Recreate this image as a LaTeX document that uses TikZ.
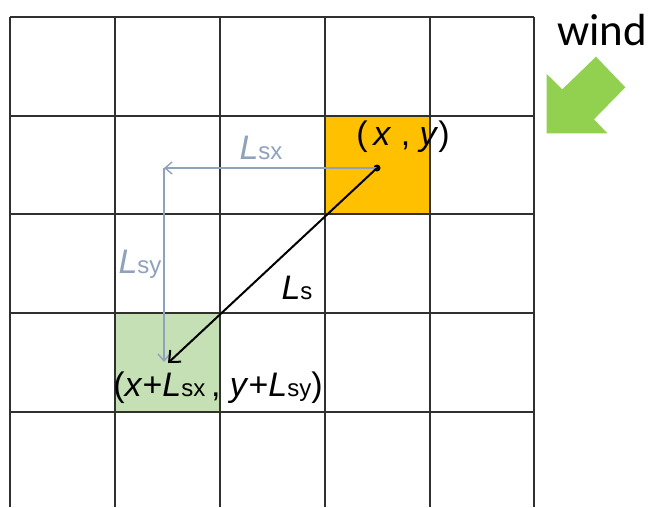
\documentclass[tikz,border=0pt]{standalone}
\usepackage{fontspec}
\setmainfont{Liberation Sans}
\newfontfamily\windfont{Carlito}
\usetikzlibrary{arrows.meta}
\definecolor{gridc}{HTML}{303030}
\definecolor{orng}{HTML}{FFC000}
\definecolor{lgreen}{HTML}{C5E0B4}
\definecolor{wgreen}{HTML}{92D050}
\definecolor{bluegray}{HTML}{8FA2BC}
\newcommand\bigf{\fontsize{34}{38}\selectfont}
\newcommand\subf[1]{{\fontsize{24}{27}\selectfont #1}}
\tikzset{
  gridline/.style={gridc, line width=1.2pt},
  bluearrow/.style={bluegray, line width=1.4pt, -{Straight Barb[length=7pt,width=12pt,line width=1.4pt]}},
  blackarrow/.style={black, line width=2pt, -{Straight Barb[length=9pt,width=16pt,line width=2pt]}},
  lbl/.style={inner sep=0pt, font=\bigf},
  bluelbl/.style={inner sep=0pt, font=\bigf, text=bluegray},
}
\begin{document}
\begin{tikzpicture}[x=1pt,y=-1pt]
\useasboundingbox[fill=white] (0,0) rectangle (651,507);
% coloured cells
\fill[orng] (325,116) rectangle (430,214);
\fill[lgreen] (115,313) rectangle (220,412);
% grid
\foreach \x in {10,115,220,325,430,534} \draw[gridline] (\x,17) -- (\x,507);
\foreach \y in {17,116,214,313,412} \draw[gridline] (10,\y) -- (534,\y);
% points
\node[circle, fill=black, inner sep=0pt, minimum size=7pt] (p) at (377,168) {};
\coordinate (c) at (164,168);
\coordinate (qq) at (164,362);
\coordinate (q) at (168,363);
% arrows
\draw[bluearrow] (p.center) -- (c);
\draw[bluearrow] (c) -- (qq);
\draw[blackarrow] (p.center) -- (q);
% labels
\node[lbl] (xy) at (403,137) {(\,\textit{x} , \textit{y})};
\node[lbl] (xy2) at (218,388) {(\textit{x}+\textit{L}\subf{sx}\,, \textit{y}+\textit{L}\subf{sy})};
\node[bluelbl] (lsx) at (261,148) {\textit{L}\subf{sx}};
\node[bluelbl] (lsy) at (140,264) {\textit{L}\subf{sy}};
\node[lbl] (ls) at (297,288) {\textit{L}\subf{s}};
% wind
\node[inner sep=0pt, font=\windfont\fontsize{45}{50}\selectfont] (wind) at (602,30) {wind};
\fill[wgreen] (546.7,74) -- (562.3,89.3) -- (596,56.7) -- (625.3,87.3) -- (594,119.3) -- (607.3,133.3) -- (546.7,133.3) -- cycle;
\end{tikzpicture}
\end{document}
